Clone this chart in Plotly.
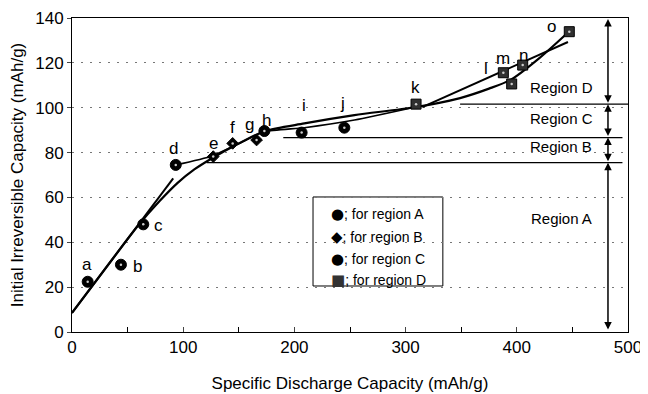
import plotly.graph_objects as go

# ---------------- data ----------------
pt_labels = ["a", "b", "c", "d", "e", "f", "g", "h", "i", "j", "k", "l", "m", "n", "o"]
pt_x = [14.1, 44.0, 64.1, 93.3, 127.0, 144.5, 166.0, 173.0, 206.5, 244.9, 309.4, 387.9, 395.4, 405.3, 447.2]
pt_y = [22.4, 30.0, 48.0, 74.5, 78.2, 84.1, 85.6, 89.6, 88.9, 91.1, 101.6, 115.6, 110.6, 119.0, 133.9]
pt_region = ["A", "A", "A", "A", "B", "B", "B", "C", "C", "C", "D", "D", "D", "D", "D"]

# label positions (data coords) for the letters
lab_x = [13.5, 58.5, 78.0, 91.0, 127.0, 144.5, 160.0, 174.5, 208.6, 243.7, 308.5, 372.0, 387.6, 405.6, 430.8]
lab_y = [30.0, 29.0, 47.7, 82.0, 84.0, 91.0, 92.7, 94.5, 100.8, 102.0, 108.8, 117.7, 122.0, 123.5, 136.0]

# region A straight fit
fitA_x = [0, 91]
fitA_y = [8.5, 68.5]
# overall smooth curve
curve_x = [0, 30, 60, 79, 95, 110, 126, 150, 173, 209, 254, 308, 349, 375, 395, 420, 447]
curve_y = [8.5, 28.3, 47.8, 58.5, 66.5, 72.5, 77.5, 84.0, 89.5, 93.0, 96.7, 100.2, 104.3, 108.5, 112.6, 122.0, 134.0]
# line from d through e..h then to k (regions B/C)
lineBC_x = [93.3, 126, 150, 173, 209, 254, 308]
lineBC_y = [74.5, 78.5, 84.0, 89.3, 91.1, 94.5, 100.2]
# region D straight fit
fitD_x = [315, 446]
fitD_y = [100.3, 129.3]

# region boundaries
bound_y = [75.5, 86.7, 101.6]
bound_x0 = [121, 190, 349]
bound_x1 = [495, 495, 500]
region_names = ["Region A", "Region B", "Region C", "Region D"]
region_lo = [0.5, 75.5, 86.7, 101.6]
region_hi = [75.5, 86.7, 101.6, 139.5]
region_text_y = [50.7, 82.6, 95.3, 109.0]
arrow_x = 482
region_text_x = 440

legend_syms = ["●", "◆", "●", "■"]
legend_cols = ["#000000", "#000000", "#000000", "#333333"]
legend_txt = ["; for region A", "; for region B", "; for region C", "; for region D"]

FONT = "Liberation Sans, Arial, sans-serif"

fig = go.Figure()

line_style = dict(color="black", width=2)
fig.add_trace(go.Scatter(x=fitA_x, y=fitA_y, mode="lines", line=line_style, showlegend=False, hoverinfo="skip"))
fig.add_trace(go.Scatter(x=curve_x, y=curve_y, mode="lines", line=dict(color="black", width=2.2, shape="spline", smoothing=0.8),
                         showlegend=False, hoverinfo="skip"))
fig.add_trace(go.Scatter(x=lineBC_x, y=lineBC_y, mode="lines", line=dict(color="black", width=1.6, shape="spline", smoothing=0.6),
                         showlegend=False, hoverinfo="skip"))
fig.add_trace(go.Scatter(x=fitD_x, y=fitD_y, mode="lines", line=line_style, showlegend=False, hoverinfo="skip"))

sym_map = {"A": "circle", "B": "diamond", "C": "circle", "D": "square"}
size_map = {"A": 11, "B": 9, "C": 11, "D": 10}
col_map = {"A": "#000000", "B": "#000000", "C": "#000000", "D": "#303030"}
for reg in ["A", "B", "C", "D"]:
    xs = [x for x, r in zip(pt_x, pt_region) if r == reg]
    ys = [y for y, r in zip(pt_y, pt_region) if r == reg]
    fig.add_trace(go.Scatter(x=xs, y=ys, mode="markers",
                             marker=dict(symbol=sym_map[reg], size=size_map[reg], color=col_map[reg],
                                         line=dict(color="black", width=1)),
                             showlegend=False, hoverinfo="skip"))
    fig.add_trace(go.Scatter(x=xs, y=ys, mode="markers",
                             marker=dict(symbol="circle", size=2.5, color="#cccccc"),
                             showlegend=False, hoverinfo="skip"))

# letters
for t, x, y in zip(pt_labels, lab_x, lab_y):
    fig.add_annotation(x=x, y=y, text=t, showarrow=False, font=dict(family=FONT, size=17, color="black"))

# region boundary lines
for y, x0, x1 in zip(bound_y, bound_x0, bound_x1):
    fig.add_shape(type="line", x0=x0, x1=x1, y0=y, y1=y, xref="x", yref="y", line=dict(color="black", width=1.2))

# double-headed arrows and region names
for name, lo, hi, ty in zip(region_names, region_lo, region_hi, region_text_y):
    fig.add_annotation(x=arrow_x, y=hi, ax=arrow_x, ay=lo, xref="x", yref="y", axref="x", ayref="y",
                       showarrow=True, arrowhead=2, arrowside="end+start", arrowsize=1, arrowwidth=1.5,
                       arrowcolor="black", text="")
    fig.add_annotation(x=region_text_x, y=ty, text=name, showarrow=False,
                       font=dict(family=FONT, size=15, color="black"))

# legend box
fig.add_shape(type="rect", xref="paper", yref="paper", x0=0.4335, x1=0.667, y0=0.1465, y1=0.43,
              line=dict(color="black", width=1), fillcolor="white", layer="below")
leg_y = [0.376, 0.3025, 0.2325, 0.1656]
for s, c, t, y in zip(legend_syms, legend_cols, legend_txt, leg_y):
    fig.add_annotation(xref="paper", yref="paper", x=0.462, y=y, xanchor="left", yanchor="middle",
                       text=f"<span style='color:{c};font-family:DejaVu Sans;font-size:15px'>{s}</span>{t}",
                       showarrow=False, font=dict(family=FONT, size=14, color="black"))

# page body has an 8px margin: figure sized so the plot area lands where the reference has it
fig.update_layout(
    width=640, height=386,
    margin=dict(l=64, r=20, t=10, b=62, autoexpand=False),
    paper_bgcolor="white", plot_bgcolor="white",
    font=dict(family=FONT, size=17, color="black"),
    showlegend=False,
)
fig.update_xaxes(range=[0, 500], tickvals=[0, 100, 200, 300, 400, 500], ticks="inside", ticklen=5,
                 minor=dict(dtick=50, ticks="inside", ticklen=5, tickcolor="black"),
                 showgrid=False, zeroline=False, showline=True, linecolor="black", linewidth=1, mirror=True,
                 automargin=False,
                 tickfont=dict(size=17), title=dict(text="Specific Discharge Capacity (mAh/g)", font=dict(size=17), standoff=20))
fig.update_yaxes(range=[0, 140], tickvals=[0, 20, 40, 60, 80, 100, 120, 140], ticks="outside", ticklen=4,
                 showgrid=True, gridcolor="#777777", griddash="2px,7px", gridwidth=1,
                 zeroline=False, showline=True, linecolor="black", linewidth=1, mirror=True,
                 automargin=False,
                 tickfont=dict(size=17), title=dict(text="Initial Irreversible Capacity (mAh/g)", font=dict(size=17), standoff=8))

fig.write_html("out.html")
